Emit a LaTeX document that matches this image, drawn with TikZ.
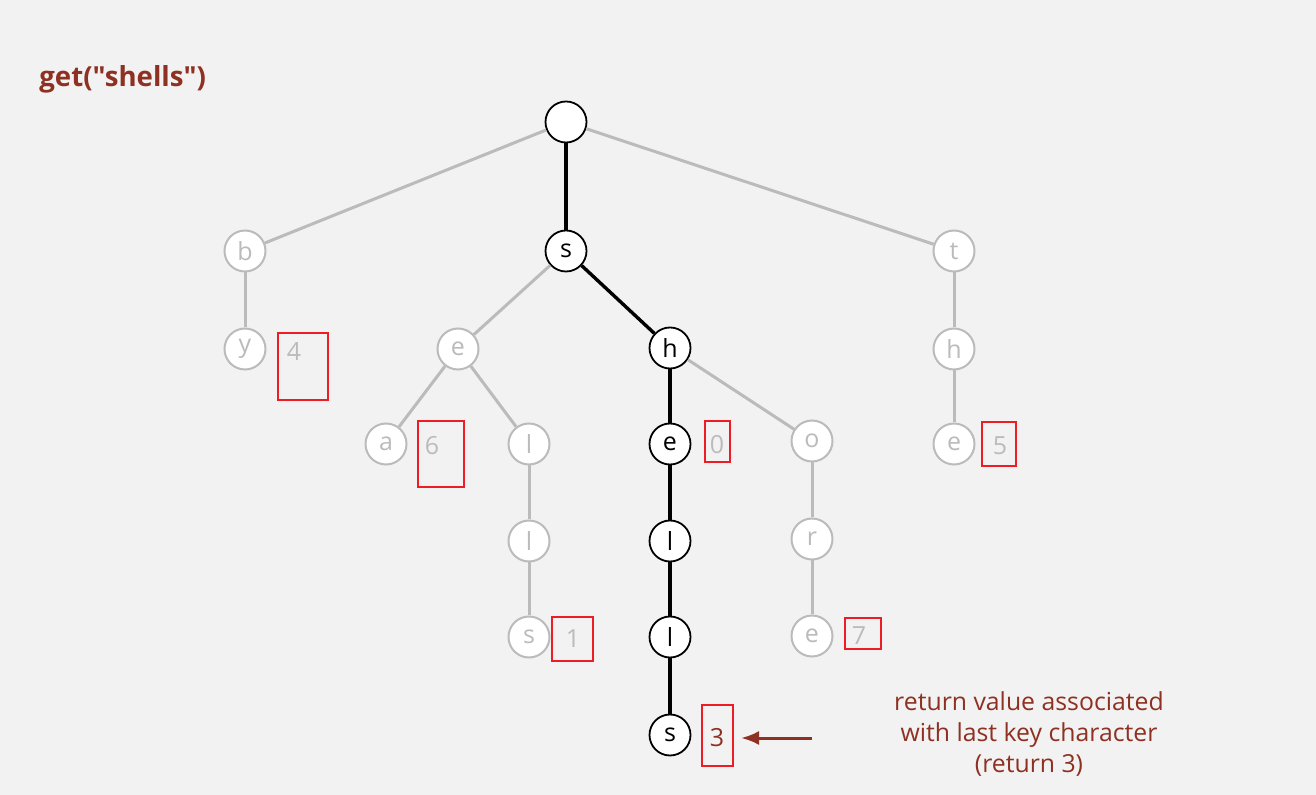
\documentclass[tikz,border=0pt]{standalone}
\usepackage{fontspec}
\setmainfont{Open Sans}
\newfontfamily\titlefont[Ligatures=TeXOff]{Open Sans}
\usetikzlibrary{arrows.meta}
\definecolor{bg}{HTML}{F2F2F2}
\definecolor{lgray}{HTML}{BBBBBB}
\definecolor{boxred}{HTML}{EE1C24}
\definecolor{dred}{HTML}{8E3022}
\begin{document}
\begin{tikzpicture}[x=0.5pt,y=-0.5pt,
  tnode/.style={circle,draw=lgray,fill=white,line width=1pt,minimum size=20.5pt,inner sep=0pt,text=lgray,font=\fontsize{12.5}{13}\selectfont},
  bnode/.style={circle,draw=black,fill=white,line width=0.9pt,minimum size=20.5pt,inner sep=0pt,text=black,font=\fontsize{12.5}{13}\selectfont},
  gedge/.style={draw=lgray,line width=1.5pt},
  bedge/.style={draw=black,line width=1.7pt},
  vbox/.style={draw=boxred,line width=1.3pt},
  gval/.style={text=lgray,font=\fontsize{12.5}{13}\selectfont,inner sep=0pt},
  rval/.style={text=dred,font=\fontsize{12.5}{13}\selectfont,inner sep=0pt}
]
\fill[bg] (0,0) rectangle (1316,795);
\useasboundingbox (0,0) rectangle (1316,795);

\node[anchor=base west,text=dred,font=\titlefont\bfseries\fontsize{13.8}{14}\selectfont,inner sep=0pt] (title) at (39,87) {get("shells")};

% nodes
\node[bnode] (root) at (566,122) {};
\node[tnode] (b) at (245,251) {b};
\node[bnode] (s) at (566,251) {s};
\node[tnode] (t) at (954,251) {t};
\node[tnode] (y) at (245,349) {y};
\node[tnode] (e1) at (458,349) {e};
\node[bnode] (h) at (670,348) {h};
\node[tnode] (h2) at (954,349) {h};
\node[tnode] (a) at (386,444) {a};
\node[tnode] (l1) at (529,444) {l};
\node[bnode] (e2) at (670,444) {e};
\node[tnode] (o) at (812,441) {o};
\node[tnode] (e3) at (954,444) {e};
\node[tnode] (l2) at (529,541) {l};
\node[bnode] (l3) at (670,541) {l};
\node[tnode] (r) at (812,539) {r};
\node[tnode] (s2) at (529,637) {s};
\node[bnode] (l4) at (670,637) {l};
\node[tnode] (e4) at (812,636) {e};
\node[bnode] (s3) at (670,735) {s};

% edges
\draw[gedge] (root) -- (b);
\draw[gedge] (root) -- (t);
\draw[gedge] (b) -- (y);
\draw[gedge] (s) -- (e1);
\draw[gedge] (t) -- (h2);
\draw[gedge] (h2) -- (e3);
\draw[gedge] (e1) -- (a);
\draw[gedge] (e1) -- (l1);
\draw[gedge] (l1) -- (l2);
\draw[gedge] (l2) -- (s2);
\draw[gedge] (h) -- (o);
\draw[gedge] (o) -- (r);
\draw[gedge] (r) -- (e4);
\draw[bedge] (root) -- (s);
\draw[bedge] (s) -- (h);
\draw[bedge] (h) -- (e2);
\draw[bedge] (e2) -- (l3);
\draw[bedge] (l3) -- (l4);
\draw[bedge] (l4) -- (s3);

% value boxes
\draw[vbox] (278,333) rectangle (328,400);
\node[gval] (v4) at (294,352) {4};
\draw[vbox] (418,421) rectangle (464,487);
\node[gval] (v6) at (432,446) {6};
\draw[vbox] (705,421) rectangle (730,462);
\node[gval] (v0) at (717,445) {0};
\draw[vbox] (552,617) rectangle (593,661);
\node[gval] (v1) at (573,639) {1};
\draw[vbox] (845,618) rectangle (881,649);
\node[gval] (v7) at (859,636) {7};
\draw[vbox] (982,422) rectangle (1016,466);
\node[gval] (v5) at (1000,446) {5};
\draw[vbox] (702,705) rectangle (733,766);
\node[rval] (v3) at (717,738) {3};

% annotation
\node[text=dred,font=\fontsize{12.4}{15.5}\selectfont,align=center,inner sep=0pt] (note) at (1029,734) {return value associated\\with last key character\\(return 3)};
\coordinate (arrs) at (812,738);
\coordinate (arre) at (741,738);
\draw[draw=dred,line width=1.5pt,-{Latex[length=9pt,width=7pt]}] (arrs) -- (arre);
\end{tikzpicture}
\end{document}
